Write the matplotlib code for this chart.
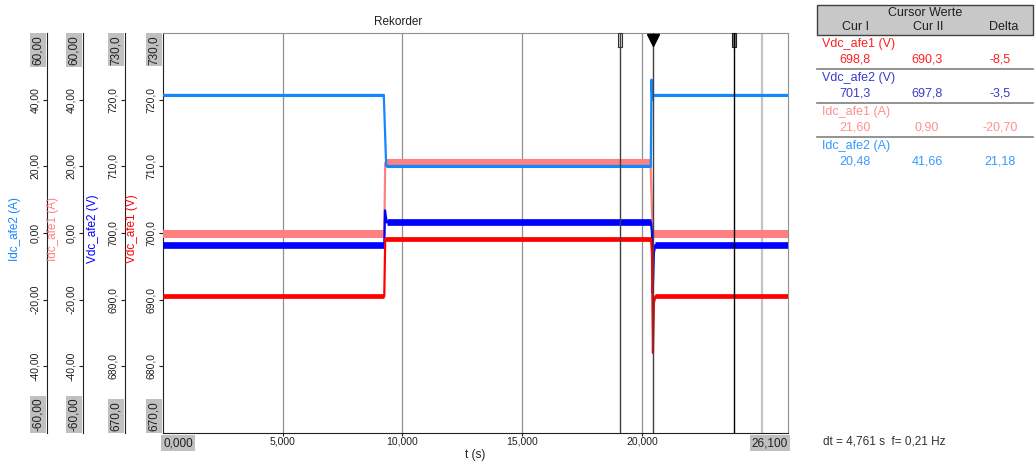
import matplotlib
matplotlib.use("Agg")
import matplotlib.pyplot as plt
from matplotlib.patches import Rectangle
from matplotlib.lines import Line2D
from matplotlib.transforms import blended_transform_factory

plt.rcParams['font.family'] = ['Liberation Sans', 'DejaVu Sans']

# ------------------------------------------
# Rekorder-Daten
# ------------------------------------------
T_END = 26.1

t_vdc1 = [0.0, 9.24, 9.28, 20.38, 20.42, 20.46, 20.50, 20.56, 26.1]
vdc1 = [690.5, 690.5, 699.1, 699.1, 697.0, 682.0, 689.5, 690.5, 690.5]

t_vdc2 = [0.0, 9.24, 9.27, 9.34, 20.38, 20.42, 20.45, 20.50, 20.56, 26.1]
vdc2 = [698.2, 698.2, 703.4, 701.6, 701.6, 700.0, 691.0, 697.0, 698.2, 698.2]

t_idc1 = [0.0, 9.24, 9.28, 20.36, 20.44, 20.50, 26.1]
idc1 = [-0.4, -0.4, 21.0, 21.0, 2.0, -0.4, -0.4]

t_idc2 = [0.0, 9.22, 9.32, 20.37, 20.40, 20.43, 20.50, 26.1]
idc2 = [41.4, 41.4, 20.1, 20.1, 46.0, 40.0, 41.4, 41.4]

# Cursor
cursor_1 = 19.08
cursor_2 = 23.841
trigger = 20.46

# Cursor Werte Tabelle
row_names = ["Vdc_afe1 (V)", "Vdc_afe2 (V)", "Idc_afe1 (A)", "Idc_afe2 (A)"]
cur1_vals = [698.8, 701.3, 21.60, 20.48]
cur2_vals = [690.3, 697.8, 0.90, 41.66]
decimals = [1, 1, 2, 2]

# Achsen
v_range = (670, 730)
v_ticks = [680, 690, 700, 710, 720]
i_range = (-60, 60)
i_ticks = [-40, -20, 0, 20, 40]
x_ticks = [5, 10, 15, 20]

C_VDC1 = "#ff0000"
C_VDC2 = "#0000ff"
C_IDC1 = "#ff8080"
C_IDC2 = "#1188ff"
C_TAB = ["#ff2020", "#3a3acc", "#ff9090", "#3399ff"]


def de(v, n):
    return f"{v:.{n}f}".replace(".", ",")


W, H = 1035, 466


def fx(px):
    return px / W


def fy(py):
    return 1 - py / H


def draw_signal(a, t, v, color, lw_flat):
    # duenne Flanken, breites Rauschband auf den Plateaus
    a.plot(t, v, color=color, lw=1.6)
    for i in range(len(t) - 1):
        if v[i] == v[i + 1]:
            a.plot(t[i:i + 2], v[i:i + 2], color=color, lw=lw_flat,
                   solid_capstyle='butt')


fig = plt.figure(figsize=(W / 100, H / 100), dpi=100)
fig.patch.set_facecolor("white")

AX_L, AX_R, AX_T, AX_B = 163, 788, 33, 433
ax_w = AX_R - AX_L
ax = fig.add_axes([fx(AX_L), fy(AX_B), ax_w / W, (AX_B - AX_T) / H])


def style_yaxis(a, rng, ticks, n):
    a.set_ylim(*rng)
    a.set_yticks(ticks)
    a.set_yticklabels([de(t, n) for t in ticks])
    a.tick_params(axis='y', direction='out', length=3, pad=2, labelsize=7.5,
                  labelrotation=90, colors="#202020")
    for lbl in a.get_yticklabels():
        lbl.set_va('center')


def end_labels(a, xfrac, top, bottom):
    for y, va, txt in ((1 - 2 / 400, 'top', top), (2 / 400, 'bottom', bottom)):
        a.text(xfrac - 3 / ax_w, y, txt, transform=a.transAxes, rotation=90,
               ha='right', va=va, fontsize=8.5, color="#202020", clip_on=False,
               bbox=dict(boxstyle='square,pad=0.15', fc='#c0c0c0', ec='none'))


def left_twin(offset_px):
    tw = ax.twinx()
    tw.yaxis.set_ticks_position('left')
    tw.yaxis.set_label_position('left')
    for s in ("top", "right", "bottom"):
        tw.spines[s].set_visible(False)
    tw.spines["left"].set_visible(True)
    tw.spines["left"].set_position(('axes', -offset_px / ax_w))
    tw.spines["left"].set_color("#202020")
    return tw


# Hauptachse: Vdc_afe1
ax.set_xlim(0, T_END)
style_yaxis(ax, v_range, v_ticks, 1)
end_labels(ax, 0, "730,0", "670,0")

ax.set_xticks(x_ticks)
ax.set_xticklabels([de(t, 3) for t in x_ticks])
ax.tick_params(axis='x', direction='out', length=2, pad=0.5, labelsize=7.5,
               colors="#202020")
ax.grid(axis='x', color="#909090", lw=0.9)
ax.axvline(25, color="#c4c4c4", lw=1.6, zorder=0)
ax.spines["left"].set_color("#202020")
ax.spines["bottom"].set_color("#202020")
ax.spines["top"].set_color("#909090")
ax.spines["right"].set_color("#909090")

for x, ha, txt in ((0, 'left', "0,000"), (1, 'right', "26,100")):
    ax.text(x, -4 / 400, txt, transform=ax.transAxes, ha=ha, va='top',
            fontsize=8.5, color="#202020",
            bbox=dict(boxstyle='square,pad=0.15', fc='#c0c0c0', ec='none'))

# Weitere Achsen links
tw_idc1 = left_twin(80)
style_yaxis(tw_idc1, i_range, i_ticks, 2)
end_labels(tw_idc1, -80 / ax_w, "60,00", "-60,00")

tw_vdc2 = left_twin(38)
style_yaxis(tw_vdc2, v_range, v_ticks, 1)
end_labels(tw_vdc2, -38 / ax_w, "730,0", "670,0")

tw_idc2 = left_twin(116)
style_yaxis(tw_idc2, i_range, i_ticks, 2)
end_labels(tw_idc2, -116 / ax_w, "60,00", "-60,00")

draw_signal(tw_idc1, t_idc1, idc1, C_IDC1, 5.8)
draw_signal(tw_vdc2, t_vdc2, vdc2, C_VDC2, 4.8)
draw_signal(tw_vdc2, t_vdc1, vdc1, C_VDC1, 3.4)
draw_signal(tw_idc2, t_idc2, idc2, C_IDC2, 2.2)

# Achsentitel
titles = [("Idc_afe2 (A)", 15, C_IDC2), ("Idc_afe1 (A)", 53, C_IDC1),
          ("Vdc_afe2 (V)", 93, C_VDC2), ("Vdc_afe1 (V)", 132, C_VDC1)]
for txt, px, col in titles:
    fig.text(fx(px), fy(229), txt, rotation=90, ha='center', va='center',
             fontsize=8.5, color=col)

# Cursor-Linien oben drauf
top = tw_idc2
trans = blended_transform_factory(top.transData, top.transAxes)
top.axvline(cursor_1, color="#404040", lw=1.0)
top.axvline(trigger, color="#404040", lw=1.0)
top.axvline(cursor_2, color="#000000", lw=1.0)
rw = 4 / ax_w * T_END
top.add_patch(Rectangle((cursor_1 - rw / 2, 1 - 14 / 400), rw, 14 / 400, transform=trans,
                        fc="#e8e8e8", ec="#303030", lw=0.8, clip_on=False))
top.add_patch(Rectangle((cursor_2 - rw / 2, 1 - 14 / 400), rw, 14 / 400, transform=trans,
                        fc="#808080", ec="#202020", lw=0.8, clip_on=False))
top.plot([trigger], [1 - 7 / 400], marker='v', ms=9, color="black", transform=trans,
         clip_on=False)

fig.text(fx(398), fy(22), "Rekorder", ha='center', va='center', fontsize=8.5,
         color="#202020")
fig.text(fx(475), fy(455), "t (s)", ha='center', va='center', fontsize=8.5,
         color="#202020")

# Tabelle rechts
fig.patches.append(Rectangle((fx(817), fy(35)), (1033 - 817) / W, 30 / H,
                             transform=fig.transFigure, fc="#c8c8c8", ec="#404040",
                             lw=1.0))
fig.text(fx(925), fy(13), "Cursor Werte", ha='center', va='center', fontsize=9,
         color="#202020")
col_x = [855, 927, 1000]
for txt, px in zip(["Cur I", "Cur II", "Delta"], [856, 928, 1004]):
    fig.text(fx(px), fy(27), txt, ha='center', va='center', fontsize=9,
             color="#202020")

for i, name in enumerate(row_names):
    y0 = 44 + 34 * i
    fig.text(fx(822), fy(y0), name, ha='left', va='center', fontsize=9,
             color=C_TAB[i])
    delta = cur2_vals[i] - cur1_vals[i]
    vals = [cur1_vals[i], cur2_vals[i], delta]
    for v, px in zip(vals, col_x):
        fig.text(fx(px), fy(y0 + 15), de(v, decimals[i]), ha='center',
                 va='center', fontsize=9, color=C_TAB[i])
    if i < 3:
        fig.lines.append(Line2D([fx(817), fx(1033)], [fy(y0 + 25)] * 2,
                                transform=fig.transFigure, color="#808080",
                                lw=1.2))

dt = cursor_2 - cursor_1
fig.text(fx(823), fy(441), f"dt = {de(dt, 3)} s  f= {de(1 / dt, 2)} Hz",
         ha='left', va='center', fontsize=8.5, color="#303030")

fig.savefig("out.png", dpi=100)
